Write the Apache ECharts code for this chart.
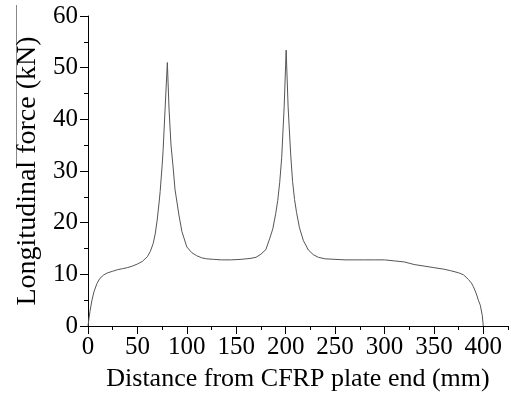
<!DOCTYPE html>
<html>
<head>
<meta charset="utf-8">
<script src="https://cdn.jsdelivr.net/npm/echarts@6/dist/echarts.min.js"></script>
<style>
html,body{margin:0;padding:0;background:#fff;}
#chart{width:511px;height:399px;}
</style>
</head>
<body>
<div id="chart"></div>
<script>
var distance = [0, 1, 2, 4, 6, 9, 12, 16, 20, 25, 30, 35, 40, 45, 50, 55, 60, 63, 66, 68, 70, 72, 73, 75, 76, 78, 80.3,
  82, 84, 86, 88, 90, 92, 95, 100, 105, 110, 115, 120, 127, 135, 145, 155, 160, 165, 170, 175, 180, 184, 187, 190, 192, 194, 196, 198.5, 200.5,
  202.5, 205, 207, 209, 211, 214, 218, 223, 228, 233, 240, 250, 260, 270, 280, 290, 300, 310, 320, 330, 340, 350, 360, 367, 375, 380, 385, 388, 390, 393, 395, 397, 399, 400];
var force = [0, 1.5, 2.8, 5.0, 6.6, 8.2, 9.2, 9.9, 10.3, 10.6, 10.9, 11.1, 11.3, 11.6, 12.0, 12.5, 13.4, 14.4, 16.0, 17.8, 20.5, 24.0, 26.0, 31.0, 34.0, 42.0, 51.0,
  42.0, 35.0, 31.0, 26.5, 24.0, 21.5, 18.3, 15.3, 14.2, 13.6, 13.2, 13.0, 12.9, 12.8, 12.8, 12.9, 13.0, 13.1, 13.3, 13.9, 14.8, 17.0, 18.8, 21.8, 24.3, 27.8, 32.6, 42.4, 53.4,
  42.4, 33.5, 28.0, 24.5, 22.0, 19.0, 16.5, 14.7, 13.8, 13.3, 13.0, 12.9, 12.8, 12.8, 12.8, 12.8, 12.8, 12.6, 12.4, 11.9, 11.6, 11.3, 11.0, 10.7, 10.3, 9.9, 9.0, 8.3, 7.6, 6.2, 5.0, 4.0, 2.0, 0];
var xLabels = [0, 50, 100, 150, 200, 250, 300, 350, 400];
var xName = 'Distance from CFRP plate end (mm)';
var yName = 'Longitudinal force (kN)';

var pts = distance.map(function (d, i) { return [d, force[i]]; });
var font = '"Liberation Serif", "Times New Roman", serif';
var chart = echarts.init(document.getElementById('chart'), null, {renderer: 'canvas'});
chart.setOption({
  animation: false,
  backgroundColor: '#fff',
  grid: {left: 88, right: 3, top: 16, bottom: 73, containLabel: false},
  xAxis: [{
    type: 'value', min: 0, max: 425, interval: 25,
    name: xName, nameLocation: 'middle', nameGap: 40,
    nameTextStyle: {fontFamily: font, fontSize: 26, color: '#000'},
    axisLine: {show: true, lineStyle: {color: '#000', width: 1}},
    axisTick: {show: true, inside: false, length: 4, lineStyle: {color: '#000'}},
    axisLabel: {customValues: xLabels, fontFamily: font, fontSize: 25, color: '#000', margin: 9},
    splitLine: {show: false}
  }, {
    type: 'value', min: 0, max: 425, position: 'bottom',
    axisLine: {show: false},
    axisTick: {show: true, inside: false, length: 8, customValues: xLabels, lineStyle: {color: '#000'}},
    axisLabel: {show: false},
    splitLine: {show: false}
  }],
  yAxis: {
    type: 'value', min: 0, max: 60, interval: 10,
    name: yName, nameLocation: 'middle', nameGap: 46, nameRotate: 90,
    nameTextStyle: {fontFamily: font, fontSize: 28, color: '#000'},
    axisLine: {show: true, lineStyle: {color: '#000', width: 1}},
    axisTick: {show: true, inside: false, length: 8, lineStyle: {color: '#000'}},
    minorTick: {show: true, splitNumber: 2, length: 4, lineStyle: {color: '#000'}},
    axisLabel: {fontFamily: font, fontSize: 25, color: '#000', margin: 10},
    splitLine: {show: false}
  },
  graphic: [{
    type: 'line', shape: {x1: 16.5, y1: 5, x2: 16.5, y2: 165},
    style: {stroke: '#888', lineWidth: 1}
  }],
  series: [{
    type: 'line', xAxisIndex: 0, data: pts, showSymbol: false, smooth: false,
    lineStyle: {color: '#555', width: 1}
  }]
});
</script>
</body>
</html>
